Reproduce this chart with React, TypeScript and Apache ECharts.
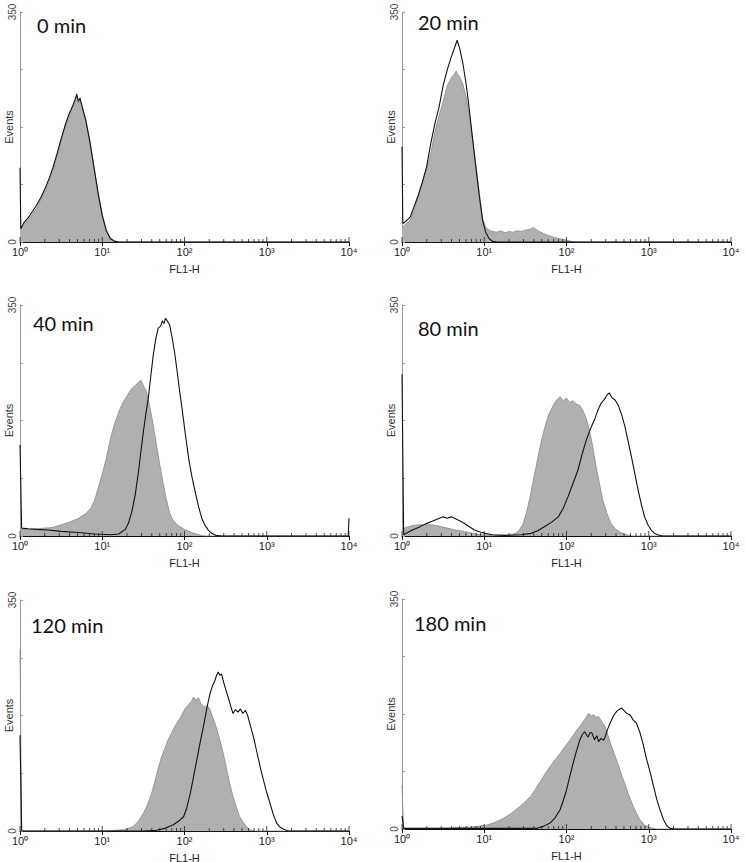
import React, { useEffect, useRef } from "react";
import * as echarts from "echarts";

// ---- data (x = log10(FL1-H), y = events) ----
const panelTitles = ["0 min", "20 min", "40 min", "80 min", "120 min", "180 min"];
const xTickExponents = [0, 1, 2, 3, 4];
const yTickLabels = [0, 350];
const minorFactors = [2, 3, 4, 5, 6, 7, 8, 9];
const minorDecades = [0, 1, 2, 3];

const ctrl0 = [[0,20],[0.05,27],[0.1,34],[0.15,42],[0.2,52],[0.25,64],[0.3,76],[0.35,90],[0.4,108],[0.45,130],[0.5,154],[0.55,176],[0.6,193],[0.64,205],[0.67,214],[0.69,222],[0.71,212],[0.73,216],[0.76,204],[0.8,186],[0.85,154],[0.9,115],[0.95,76],[1.0,42],[1.05,18],[1.1,6],[1.15,2],[1.2,0],[4,0]];
const trt0 = [[0,113],[0.01,20],[0.05,30],[0.1,37],[0.15,46],[0.2,56],[0.25,67],[0.3,80],[0.35,95],[0.4,113],[0.45,134],[0.5,157],[0.55,178],[0.6,196],[0.64,207],[0.67,217],[0.69,225],[0.71,214],[0.73,219],[0.76,204],[0.8,185],[0.85,152],[0.9,113],[0.95,74],[1.0,40],[1.05,17],[1.1,5],[1.15,1],[1.2,0],[4,0]];

const ctrl20 = [[0,22],[0.05,28],[0.1,33],[0.15,50],[0.2,70],[0.25,92],[0.3,112],[0.35,135],[0.4,168],[0.45,192],[0.5,214],[0.55,238],[0.6,250],[0.64,256],[0.66,260],[0.68,254],[0.7,252],[0.74,240],[0.78,220],[0.82,190],[0.86,155],[0.9,115],[0.94,75],[0.98,36],[1.02,22],[1.06,18],[1.1,16],[1.15,15],[1.2,17],[1.25,14],[1.3,16],[1.35,15],[1.4,17],[1.45,16],[1.5,18],[1.55,19],[1.6,22],[1.63,19],[1.67,16],[1.72,13],[1.78,10],[1.85,7],[1.92,5],[2.0,3],[2.05,1],[2.1,0],[4,0]];
const trt20 = [[0,145],[0.01,28],[0.05,32],[0.1,38],[0.15,55],[0.2,72],[0.25,92],[0.3,115],[0.35,150],[0.4,180],[0.45,205],[0.5,238],[0.55,262],[0.6,282],[0.64,296],[0.67,307],[0.7,295],[0.74,272],[0.78,240],[0.82,200],[0.86,155],[0.9,112],[0.94,70],[0.98,33],[1.02,14],[1.06,5],[1.1,1],[1.15,0],[4,0]];

const ctrl40 = [[0,10],[0.1,10],[0.2,11],[0.3,12],[0.4,13],[0.5,17],[0.6,21],[0.7,26],[0.8,34],[0.86,42],[0.9,52],[0.95,72],[1.0,94],[1.05,118],[1.1,148],[1.15,170],[1.2,188],[1.25,202],[1.3,212],[1.35,222],[1.4,228],[1.44,233],[1.47,236],[1.5,228],[1.54,218],[1.58,195],[1.62,168],[1.66,138],[1.7,108],[1.74,80],[1.78,55],[1.82,35],[1.86,24],[1.92,16],[2.0,10],[2.1,5],[2.2,1],[2.25,0],[4,0]];
const trt40 = [[0,138],[0.02,12],[0.1,11],[0.2,10],[0.34,9],[0.5,7],[0.75,5],[0.9,3],[1.1,2],[1.2,3],[1.28,10],[1.32,20],[1.36,37],[1.4,62],[1.44,97],[1.47,128],[1.5,158],[1.53,185],[1.56,209],[1.59,242],[1.62,274],[1.65,298],[1.68,315],[1.71,318],[1.73,326],[1.75,322],[1.77,330],[1.79,326],[1.82,320],[1.85,300],[1.88,278],[1.91,250],[1.94,220],[1.97,193],[2.01,155],[2.05,118],[2.09,90],[2.13,67],[2.17,45],[2.21,27],[2.25,16],[2.29,9],[2.33,4],[2.38,1],[2.45,0],[3.99,0],[4,27]];

const ctrl80 = [[0,10],[0.05,13],[0.1,15],[0.15,16],[0.2,17],[0.3,17],[0.36,17],[0.45,15],[0.55,12],[0.65,9],[0.76,7],[0.86,4],[0.96,2],[1.1,1],[1.3,1],[1.38,4],[1.42,8],[1.47,18],[1.51,34],[1.55,55],[1.59,80],[1.63,105],[1.67,130],[1.71,152],[1.75,171],[1.79,186],[1.84,198],[1.88,206],[1.92,211],[1.96,205],[2.0,209],[2.04,202],[2.08,205],[2.12,200],[2.16,198],[2.2,190],[2.24,178],[2.28,160],[2.32,135],[2.36,105],[2.4,80],[2.44,55],[2.49,35],[2.54,19],[2.6,10],[2.66,5],[2.75,1],[2.8,0],[4,0]];
const trt80 = [[0,245],[0.02,2],[0.08,6],[0.14,10],[0.2,13],[0.28,18],[0.36,22],[0.44,26],[0.5,29],[0.55,27],[0.6,29],[0.64,27],[0.7,23],[0.76,19],[0.82,14],[0.88,9],[0.95,6],[1.01,4],[1.1,2],[1.25,1],[1.45,2],[1.57,4],[1.65,8],[1.73,14],[1.82,21],[1.9,29],[1.96,42],[2.02,60],[2.08,80],[2.14,100],[2.19,124],[2.24,145],[2.29,162],[2.34,176],[2.38,190],[2.42,201],[2.46,207],[2.49,213],[2.52,217],[2.55,210],[2.59,206],[2.63,198],[2.67,184],[2.71,166],[2.75,143],[2.79,120],[2.83,95],[2.87,70],[2.91,48],[2.95,29],[2.99,17],[3.03,9],[3.07,4],[3.11,2],[3.17,0],[4,0]];

const ctrl120 = [[0,275],[0.02,0],[1.05,0],[1.15,1],[1.26,2],[1.32,4],[1.38,7],[1.44,15],[1.5,27],[1.55,40],[1.6,57],[1.64,75],[1.68,95],[1.72,112],[1.76,125],[1.8,138],[1.84,148],[1.88,158],[1.92,166],[1.96,174],[2.0,184],[2.04,190],[2.08,196],[2.11,203],[2.14,198],[2.17,202],[2.2,193],[2.24,188],[2.28,190],[2.31,184],[2.35,170],[2.39,156],[2.43,138],[2.47,118],[2.51,95],[2.55,72],[2.59,52],[2.63,36],[2.67,22],[2.72,12],[2.76,6],[2.8,2],[2.86,0],[4,0]];
const trt120 = [[0,145],[0.02,0],[1.5,0],[1.66,1],[1.76,4],[1.86,9],[1.94,16],[1.99,22],[2.03,36],[2.07,57],[2.11,82],[2.15,108],[2.19,134],[2.23,158],[2.27,185],[2.31,208],[2.34,220],[2.37,228],[2.39,236],[2.41,241],[2.43,236],[2.45,238],[2.47,228],[2.5,215],[2.53,203],[2.56,190],[2.59,178],[2.62,184],[2.65,180],[2.68,185],[2.71,178],[2.74,183],[2.77,174],[2.8,160],[2.84,142],[2.87,125],[2.9,108],[2.93,92],[2.96,77],[3.0,58],[3.04,42],[3.08,25],[3.12,12],[3.16,6],[3.2,3],[3.26,0],[4,0]];

const ctrl180 = [[0,67],[0.02,1],[0.5,1],[0.85,3],[1.03,6],[1.13,10],[1.23,16],[1.33,24],[1.43,34],[1.5,42],[1.56,49],[1.62,60],[1.68,72],[1.74,84],[1.8,95],[1.86,105],[1.92,115],[1.98,125],[2.04,135],[2.1,146],[2.16,156],[2.2,163],[2.24,170],[2.27,176],[2.3,172],[2.33,174],[2.36,170],[2.39,171],[2.43,163],[2.47,156],[2.51,140],[2.55,125],[2.6,108],[2.65,90],[2.7,72],[2.75,54],[2.8,38],[2.85,24],[2.9,13],[2.95,6],[3.0,3],[3.05,1],[3.1,0],[4,0]];
const trt180 = [[0,20],[0.02,1],[1.43,1],[1.64,1],[1.72,4],[1.8,9],[1.86,17],[1.92,29],[1.96,43],[2.0,59],[2.04,80],[2.08,100],[2.12,118],[2.16,135],[2.19,143],[2.22,148],[2.26,140],[2.29,147],[2.31,146],[2.34,136],[2.37,142],[2.39,133],[2.42,138],[2.45,135],[2.47,140],[2.5,152],[2.53,161],[2.57,172],[2.61,179],[2.64,182],[2.67,184],[2.7,180],[2.73,176],[2.77,174],[2.81,166],[2.85,161],[2.89,148],[2.93,130],[2.97,108],[3.02,85],[3.06,64],[3.1,44],[3.14,28],[3.18,14],[3.22,5],[3.26,1],[3.32,0],[4,0]];

const controlSeries = [ctrl0, ctrl20, ctrl40, ctrl80, ctrl120, ctrl180];
const treatedSeries = [trt0, trt20, trt40, trt80, trt120, trt180];

// ---- layout ----
const gridBoxes = [
  { left: 20, top: 12, width: 329, height: 230 },
  { left: 402, top: 12, width: 329, height: 230 },
  { left: 20, top: 305, width: 329, height: 231 },
  { left: 402, top: 305, width: 329, height: 231 },
  { left: 20, top: 600, width: 329, height: 231 },
  { left: 402, top: 599, width: 329, height: 230 },
];
const titlePos = [
  { left: 37, top: 15 },
  { left: 418, top: 12 },
  { left: 33, top: 313 },
  { left: 418, top: 318 },
  { left: 31, top: 615 },
  { left: 414, top: 613 },
];

const SUP = ["\u2070", "\u00b9", "\u00b2", "\u00b3", "\u2074"];
const AXIS_FONT = "'Liberation Sans', Arial, sans-serif";

function buildOption() {
  const minorTicks: number[][] = [];
  minorDecades.forEach((d) => minorFactors.forEach((f) => minorTicks.push([d + Math.log10(f), 3])));
  xTickExponents.forEach((e) => minorTicks.push([e, 5]));

  const grid = gridBoxes.map((g) => ({ ...g, containLabel: false, outerBoundsMode: "none" }));
  const xAxis = gridBoxes.map((_, i) => ({
    type: "value",
    gridIndex: i,
    min: 0,
    max: 4,
    interval: 1,
    name: "FL1-H",
    nameLocation: "middle",
    nameGap: 21,
    nameMoveOverlap: false,
    nameTextStyle: { fontSize: 11, color: "#222", fontFamily: AXIS_FONT },
    axisLine: { show: true, onZero: false, lineStyle: { color: "#111", width: 1 } },
    axisTick: { show: true, length: 4, lineStyle: { color: "#111", width: 1 } },
    axisLabel: {
      show: true,
      margin: 4,
      fontSize: 11,
      color: "#222",
      fontFamily: AXIS_FONT,
      formatter: (v: number) => "10" + SUP[Math.round(v)],
    },
    splitLine: { show: false },
  }));
  const yAxis = gridBoxes.map((_, i) => ({
    type: "value",
    gridIndex: i,
    min: 0,
    max: 350,
    interval: 87.5,
    name: "Events",
    nameLocation: "middle",
    nameRotate: 90,
    nameGap: 6,
    nameMoveOverlap: false,
    nameTextStyle: { fontSize: 11, color: "#333", fontFamily: AXIS_FONT },
    axisLine: { show: true, lineStyle: { color: "#9a9a9a", width: 1 } },
    axisTick: { show: true, inside: true, length: 3, lineStyle: { color: "#9a9a9a" } },
    axisLabel: {
      show: true,
      rotate: 90,
      margin: 3,
      fontSize: 10,
      color: "#444",
      fontFamily: AXIS_FONT,
      formatter: (v: number) => (yTickLabels.includes(v) ? String(v) : ""),
    },
    splitLine: { show: false },
  }));

  const series: any[] = [];
  gridBoxes.forEach((_, i) => {
    series.push({
      type: "line",
      name: "control " + panelTitles[i],
      xAxisIndex: i,
      yAxisIndex: i,
      data: controlSeries[i],
      symbol: "none",
      smooth: false,
      lineStyle: { color: "#8a8a8a", width: 0.8 },
      areaStyle: { color: "#b0b0b0", opacity: 1 },
      z: 2,
    });
    series.push({
      type: "line",
      name: "treated " + panelTitles[i],
      xAxisIndex: i,
      yAxisIndex: i,
      data: treatedSeries[i],
      symbol: "none",
      smooth: false,
      lineStyle: { color: "#111", width: 1.1 },
      z: 3,
    });
    series.push({
      type: "custom",
      xAxisIndex: i,
      yAxisIndex: i,
      data: minorTicks,
      encode: { x: 0, y: 1 },
      clip: false,
      silent: true,
      z: 4,
      renderItem: (_p: any, api: any) => {
        const pt = api.coord([api.value(0), 0]);
        const len = api.value(1);
        return {
          type: "line",
          shape: { x1: pt[0], y1: pt[1], x2: pt[0], y2: pt[1] - len },
          style: { stroke: "#222", lineWidth: 0.8 },
        };
      },
    });
  });

  const title = panelTitles.map((t, i) => ({
    text: t,
    left: titlePos[i].left,
    top: titlePos[i].top,
    padding: 0,
    textStyle: { fontSize: 20, fontWeight: "normal", color: "#111", fontFamily: "Lato, 'Open Sans', sans-serif" },
  }));

  return {
    animation: false,
    backgroundColor: "#ffffff",
    title,
    grid,
    xAxis,
    yAxis,
    series,
  };
}

export default function App() {
  const ref = useRef<HTMLDivElement>(null);
  useEffect(() => {
    if (!ref.current) return;
    const chart = echarts.init(ref.current, undefined, { renderer: "svg" });
    chart.setOption(buildOption() as any);
    return () => chart.dispose();
  }, []);
  return (
    <div
      ref={ref}
      style={{ position: "absolute", left: 0, top: 0, width: 745, height: 862, background: "#fff" }}
    />
  );
}
